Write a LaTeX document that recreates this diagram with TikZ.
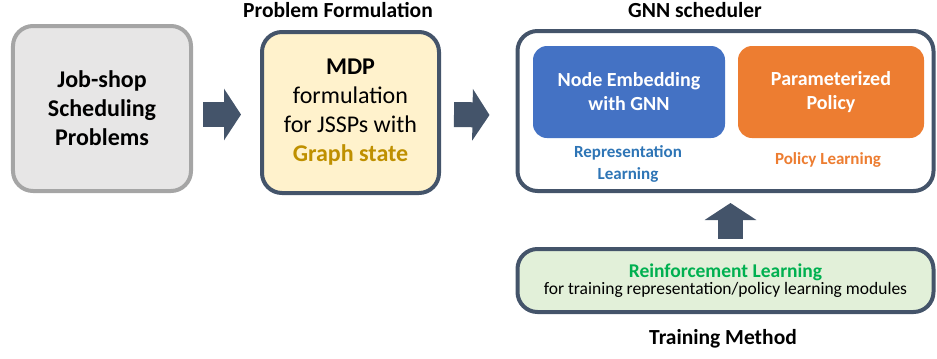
\documentclass[tikz,border=0pt]{standalone}
\usepackage{fontspec}
\setmainfont{Carlito}
\usetikzlibrary{arrows.meta,calc}
\definecolor{slate}{HTML}{44546A}
\definecolor{grayfill}{HTML}{E7E6E6}
\definecolor{grayline}{HTML}{A5A5A5}
\definecolor{yellowfill}{HTML}{FFF2CC}
\definecolor{gold}{HTML}{BF9000}
\definecolor{blueA}{HTML}{4472C4}
\definecolor{orangeA}{HTML}{ED7D31}
\definecolor{blueT}{HTML}{2E75B6}
\definecolor{greenT}{HTML}{00B050}
\definecolor{greenfill}{HTML}{E2F0D9}
\begin{document}
\begin{tikzpicture}[x=1bp,y=-1bp,
  bigbox/.style={draw, line width=4bp, rounded corners=20bp, align=center, inner sep=0pt},
  innerbox/.style={rounded corners=14bp, align=center, inner sep=0pt, text=white,
     font=\fontsize{20bp}{24bp}\selectfont\bfseries},
  titletext/.style={font=\fontsize{21.5bp}{26bp}\selectfont\bfseries},
  sublabel/.style={font=\fontsize{17bp}{22bp}\selectfont\bfseries, align=center},
  blockarrow/.style={line width=25bp, color=slate, -{Triangle[width=51bp,length=17bp]}}
]
\useasboundingbox (0,0) rectangle (937,358);

% boxes
\node[bigbox, draw=grayline, fill=grayfill, minimum width=178bp, minimum height=165bp,
  font=\fontsize{24bp}{29bp}\selectfont\bfseries] (jssp) at (102,108.5)
  {Job-shop\\Scheduling\\Problems};
\node[bigbox, draw=slate, fill=yellowfill, minimum width=177bp, minimum height=161bp,
  font=\fontsize{24bp}{29bp}\selectfont] (mdp) at (350.5,112.5)
  {\textbf{MDP}\\formulation\\for JSSPs with\\\textcolor{gold}{\textbf{Graph state}}};
\node[bigbox, draw=slate, fill=white, minimum width=416bp, minimum height=160bp] (gnn) at (725.5,111) {};
\node[innerbox, fill=blueA, minimum width=192bp, minimum height=92bp] (embed) at (629,92)
  {Node Embedding\\with GNN};
\node[innerbox, fill=orangeA, minimum width=186bp, minimum height=92bp] (policy) at (831,92)
  {Parameterized\\Policy};
\node[sublabel, text=blueT] (replabel) at (628,164) {Representation\\Learning};
\node[sublabel, text=orangeA] (pollabel) at (828,160) {Policy Learning};
\node[bigbox, draw=slate, fill=greenfill, minimum width=416bp, minimum height=63bp] (rl) at (725.5,280.5)
  {\textcolor{greenT}{\fontsize{19.5bp}{22bp}\selectfont\bfseries Reinforcement Learning}\\[0bp]
   \fontsize{17.5bp}{22bp}\selectfont for training representation/policy learning modules};

% titles
\node[titletext] (t1) at (338,10) {Problem Formulation};
\node[titletext] (t2) at (695,10) {GNN scheduler};
\node[titletext] (t3) at (723,339) {Training Method};

% block arrows
\draw[blockarrow] ($(jssp.east)+(10,6)$) -- ($(mdp.west)+(-19,2)$);
\draw[blockarrow] ($(mdp.east)+(13,2)$) -- ($(gnn.west)+(-26,4)$);
\draw[blockarrow] ($(rl.north)+(5,-8.5)$) -- ($(gnn.south)+(5,10)$);
\end{tikzpicture}
\end{document}
